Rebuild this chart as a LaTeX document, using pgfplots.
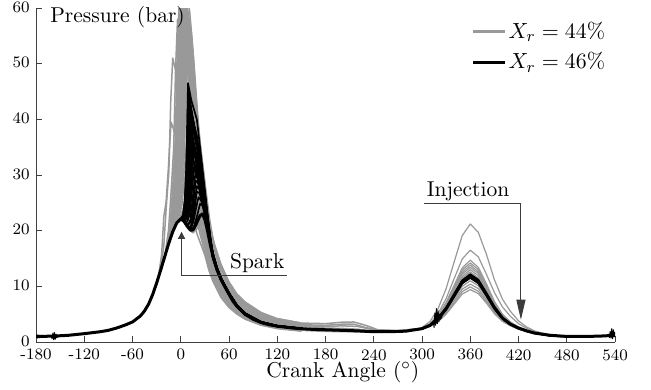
\documentclass[border=0pt]{standalone}
\usepackage{pgfplots}
\pgfplotsset{compat=1.18}
\usetikzlibrary{arrows.meta}
\definecolor{grayline}{RGB}{153,153,153}
\definecolor{annot}{RGB}{60,60,60}
\begin{document}
\begin{tikzpicture}
\begin{axis}[
  width=289.5pt, height=167pt, scale only axis,
  xmin=-180, xmax=540, ymin=0, ymax=60,
  axis x line*=bottom, axis y line*=left,
  xtick={-180,-120,-60,0,60,120,180,240,300,360,420,480,540},
  xticklabels={-180,-120,-60,0,60,120,180,240,300,360,420,480,540},
  ytick={0,10,20,30,40,50,60},
  tick align=inside, major tick length=3pt,
  tick label style={font=\fontsize{8}{9}\selectfont},
  xticklabel style={inner sep=0pt, yshift=-3.4pt},
  yticklabel style={inner sep=0pt, xshift=-3pt, yshift=0.5pt},
  /pgf/number format/assume math mode=true,
  axis line style={black!75, line width=0.5pt},
  every tick/.style={black!75, line width=0.5pt},
  xlabel={Crank Angle ($^\circ$)},
  xlabel style={font=\fontsize{10.75}{12}\selectfont, at={(axis description cs:0.53,0)}, anchor=north, inner sep=0pt, yshift=-9.6pt},
  ylabel={Pressure (bar)},
  ylabel style={font=\fontsize{10.75}{12}\selectfont, rotate=-90, at={(axis description cs:0.024,1.006)}, anchor=north west, inner sep=0pt},
  legend style={at={(axis description cs:0.7515,0.9645)}, anchor=north west, draw=none, fill=none, inner sep=0pt, font=\fontsize{10.75}{12}\selectfont, row sep=3.3pt, nodes={inner sep=1pt}},
  legend image code/.code={\draw[#1] (0pt,0pt) -- (16pt,0pt);},
  legend cell align=left,
  clip=true,
  every axis plot/.append style={line join=round},
]
\addlegendimage{grayline, line width=1.5pt}
\addlegendentry{$X_r = 44\%$}
\addlegendimage{black, line width=1.5pt}
\addlegendentry{$X_r = 46\%$}

% ---------------- X_r = 44% (gray) : combustion region ----------------
\pgfplotsset{gr/.style={grayline, line width=0.75pt, forget plot}}
\addplot[gr] coordinates {(-35,8.5)(-30,10.6)(-25,12.9)(-20,15.3)(-15.2,20.1)(-12,27)(-8.8,34.8)(-6.4,49.3)(-4,58)(-1,55.7)(2,51)(6,42.9)(11,33.6)(16,26.7)(21,22)(30,17)(35,14)(40,11.9)(50,8.8)(60,6.8)(70,5.4)(80,4.5)(100,3.3)(120,2.6)(150,2.1)};
\addplot[gr] coordinates {(-35,8.5)(-30,10.6)(-25,12.9)(-18,16.3)(-13.2,21)(-10,27.8)(-6.8,36.6)(-4.4,51.9)(-2,61)(1,58.6)(4,53.7)(8,45.1)(13,35.4)(18,28.1)(23,23.2)(30,17.5)(35,13.5)(40,11.5)(50,8.4)(60,6.6)(70,5.2)(80,4.3)(100,3.2)(120,2.5)(150,2.05)};
\addplot[gr] coordinates {(-35,8.5)(-30,10.6)(-25,12.9)(-20,15.3)(-16,17.2)(-11.2,21.8)(-8,28.5)(-4.8,37.2)(-2.4,52.7)(0,62)(3,59.5)(6,54.6)(10,45.9)(15,36)(20,28.5)(25,23.6)(30,19.5)(35,14.9)(40,12.6)(50,9.3)(60,7.2)(70,5.8)(80,4.8)(100,3.5)(120,2.8)(150,2.25)};
\addplot[gr] coordinates {(-35,8.5)(-30,10.6)(-25,12.9)(-20,15.3)(-14,18.1)(-9.2,22.6)(-6,29.1)(-2.8,36.6)(-0.4,51.9)(2,61)(5,58.6)(8,53.7)(12,45.1)(17,35.4)(22,28.1)(27,23.2)(30,21)(35,15.7)(40,13.3)(50,9.8)(60,7.6)(70,6.1)(80,5)(100,3.7)(120,2.9)(150,2.4)};
\addplot[gr] coordinates {(-35,8.5)(-30,10.6)(-25,12.9)(-20,15.3)(-13,18.6)(-8.2,22.9)(-5,29.4)(-1.8,36)(0.6,51)(3,60)(6,57.6)(9,52.8)(13,44.4)(18,34.8)(23,27.6)(28,22.8)(35,16.5)(40,14)(50,10.3)(60,8)(70,6.4)(80,5.3)(100,3.9)(120,3.1)(150,2.5)};
\addplot[gr] coordinates {(-35,8.5)(-30,10.6)(-25,12.9)(-20,15.3)(-12,19)(-7.2,23.3)(-4,29.6)(-0.8,37.8)(1.6,53.6)(4,63)(7,60.5)(10,55.4)(14,46.6)(19,36.5)(24,29)(29,23.9)(35,15.5)(40,12.3)(50,9.1)(60,7)(70,5.6)(80,4.7)(100,3.4)(120,2.7)(150,2.2)};
\addplot[gr] coordinates {(-35,8.5)(-30,10.6)(-25,12.9)(-20,15.3)(-15,17.7)(-11,19.4)(-6.2,23.5)(-3,29.7)(0.2,35.4)(2.6,50.2)(5,59)(8,56.6)(11,51.9)(15,43.7)(20,34.2)(25,27.1)(30,22.4)(35,17.3)(40,14.7)(50,10.8)(60,8.4)(70,6.7)(80,5.6)(100,4.1)(120,3.3)(150,2.6)};
\addplot[gr] coordinates {(-35,8.5)(-30,10.6)(-25,12.9)(-20,15.3)(-15,17.7)(-10,19.8)(-5.2,23.8)(-2,29.9)(1.2,34.2)(3.6,48.5)(6,57)(9,54.7)(12,50.2)(16,42.2)(21,33.1)(26,26.2)(31,21.7)(35,18.2)(40,15.4)(50,11.3)(60,8.8)(70,7)(80,5.8)(100,4.3)(120,3.4)(150,2.75)};
\addplot[gr] coordinates {(-35,8.5)(-30,10.6)(-25,12.9)(-20,15.3)(-15,17.7)(-9,20.2)(-4.2,24.1)(-1,30)(2.2,36.6)(4.6,51.9)(7,61)(10,58.6)(13,53.7)(17,45.1)(22,35.4)(27,28.1)(32,23.2)(36,17.5)(40,14)(50,10.3)(60,8)(70,6.4)(80,5.3)(100,3.9)(120,3.1)(150,2.5)};
\addplot[gr] coordinates {(-35,8.5)(-30,10.6)(-25,12.9)(-20,15.3)(-15,17.7)(-8,20.5)(-3.2,24.2)(0,30.1)(3.2,33.6)(5.6,47.6)(8,56)(11,53.8)(14,49.3)(18,41.4)(23,32.5)(28,25.8)(33,21.3)(35,19)(40,16.1)(50,11.8)(60,9.2)(70,7.4)(80,6.1)(100,4.5)(120,3.6)(150,2.9)};
\addplot[gr] coordinates {(-35,8.5)(-30,10.6)(-25,12.9)(-20,15.3)(-15,17.7)(-7,20.8)(-2.2,24.4)(1,30.1)(4.2,33)(6.6,45)(9,53)(12,51.1)(15,47.7)(19,42.4)(24,35.5)(29,29.7)(34,23)(38,19.5)(40,17.5)(50,12.4)(60,9.6)(70,7.7)(80,6.4)(100,4.7)(120,3.7)(150,3.0)};
\addplot[gr] coordinates {(-35,8.5)(-30,10.6)(-25,12.9)(-20,15.3)(-15,17.7)(-10,19.8)(-6,21.1)(-0.9,24.5)(2.5,29.9)(5.9,33)(8.45,41)(11,50)(14,48.3)(17,45)(21,40)(26,33.5)(31,27.5)(36,22)(40,18.5)(50,13.2)(60,10)(70,8)(80,6.6)(100,4.9)(120,3.9)(150,3.1)};
\addplot[gr] coordinates {(-35,8.5)(-30,10.6)(-25,12.9)(-20,15.3)(-15,17.7)(-10,19.8)(-5,21.4)(0.1,24.6)(3.5,29.8)(6.9,33)(9.45,38)(12,45)(15,43)(18,40)(22,35.5)(27,29.5)(32,24)(37,19.5)(42,16.5)(50,13.5)(60,10.4)(70,8.3)(80,6.9)(100,5.1)(120,4)(150,3.25)};
\addplot[gr] coordinates {(-35,8.5)(-30,10.6)(-25,12.9)(-20,15.3)(-15,17.7)(-10,19.8)(-4,21.6)(1.4,24.5)(5,29.6)(8.6,31.5)(11.3,35)(14,40)(17,38.8)(20,36.8)(24,33.5)(29,28)(34,23)(39,18.5)(45,15.5)(50,13.8)(60,10.8)(70,8.6)(80,7.2)(100,5.3)(120,4.2)(150,3.4)};
\addplot[gr] coordinates {(-35,8.5)(-30,10.6)(-25,12.9)(-20,15.3)(-15,17.7)(-10,19.8)(-5,21.4)(-2,21.9)(3.7,24.3)(7.5,29.8)(11.3,30.8)(14.2,32)(17,34)(20,33)(23,31.3)(27,28.5)(32,24.5)(37,20.5)(42,17.5)(50,14)(60,10.6)(70,8.3)(80,6.9)(100,5.1)(120,4)(150,3.25)};
\addplot[gr] coordinates {(-10,19.8)(-5,21.4)(0,22.1)(5,21.5)(10,20.3)(15,19.6)(20,20.3)(25,21.5)(29,22.3)(33,21.2)(37,19)(41,17)(50,13.2)(60,10.2)(70,8.1)(80,6.7)(100,4.9)(120,3.9)(150,3.1)};
\addplot[gr] coordinates {(-35,8.5)(-30,10.6)(-26,12.4)(-21.2,17.1)(-18,24.3)(-14.8,30.6)(-12.4,43.4)(-10,51)(-7,49.2)(-4,45.9)(0,40.8)(5,34.2)(10,28.6)(15,24.5)(30,16)(35,13.2)(40,11.2)(50,8.2)(60,6.4)(70,5.1)(80,4.2)(100,3.1)(120,2.5)(150,2)};
\addplot[gr] coordinates {(-35,8.5)(-28,11.5)(-23.8,15.7)(-21,22.6)(-18.2,25.2)(-15.5,31)(-13.5,36)(-12,39.5)(-9,38.2)(-5,36)(0,32.5)(5,29)(11,25.2)(20,19.5)(30,15.6)(35,12.9)(40,10.9)(50,8)(60,6.2)(70,5)(80,4.1)(100,3)(120,2.4)(150,1.95)};
\addplot[gr] coordinates {(-35,8.5)(-30,10.6)(-25,12.9)(-20,15.3)(-15,17.7)(-11,19.4)(-5.6,23.7)(-2,29.9)(1.6,36)(4.3,51)(7,60)(10,57.6)(13,52.8)(17,44.4)(22,34.8)(27,27.6)(32,22.8)(36,16.5)(40,13.3)(50,9.8)(60,7.6)(70,6.1)(80,5)(100,3.7)(120,2.9)(150,2.4)};
\addplot[gr] coordinates {(-35,8.5)(-30,10.6)(-25,12.9)(-20,15.3)(-15,17.7)(-9,20.2)(-3.3,24.2)(0.5,30.1)(4.3,34.8)(7.15,49.3)(10,58)(13,55.7)(16,51)(20,42.9)(25,33.6)(30,26.7)(35,21)(40,16.5)(50,11.3)(60,8.8)(70,7)(80,5.8)(100,4.3)(120,3.4)(150,2.75)};
\addplot[gr] coordinates {(-35,8.5)(-30,10.6)(-25,12.9)(-20,15.3)(-15,17.7)(-10.8,22)(-8,28.5)(-5.2,33.6)(-3.1,47.6)(-1,56)(2,53.8)(5,49.3)(9,41.4)(14,32.5)(19,25.8)(24,21.3)(30,18)(35,14.9)(40,12.6)(50,9.3)(60,7.2)(70,5.8)(80,4.8)(100,3.5)(120,2.8)(150,2.25)};
\addplot[gr] coordinates {(-35,8.5)(-30,10.6)(-25,12.9)(-20,15.3)(-15,17.7)(-10,19.8)(-4.6,24)(-1,30)(2.6,37.2)(5.3,52.7)(8,62)(11,59.5)(14,54.6)(18,45.9)(23,36)(28,28.5)(33,23.6)(37,17)(40,14)(50,10.3)(60,8)(70,6.4)(80,5.3)(100,3.9)(120,3.1)(150,2.5)};
\addplot[gr] coordinates {(-35,8.5)(-30,10.6)(-25,12.9)(-20,15.3)(-14,18.1)(-9.5,22.5)(-6.5,29)(-3.5,36)(-1.25,51)(1,60)(4,57.6)(7,52.8)(11,44.4)(16,34.8)(21,27.6)(26,22.8)(30,18.4)(35,15.2)(40,12.9)(50,9.5)(60,7.4)(70,5.9)(80,4.9)(100,3.6)(120,2.85)(150,2.3)};
\addplot[gr] coordinates {(-35,8.5)(-30,10.6)(-25,12.9)(-20,15.3)(-15,17.7)(-12,19)(-7.5,23.2)(-4.5,29.5)(-1.5,37.8)(0.75,53.6)(3,63)(6,60.5)(9,55.4)(13,46.6)(18,36.5)(23,29)(28,23.9)(35,17.3)(40,14.7)(50,10.8)(60,8.4)(70,6.7)(80,5.6)(100,4.1)(120,3.3)(150,2.6)};
\addplot[gr] coordinates {(-35,8.5)(-30,10.6)(-25,12.9)(-20,15.3)(-15,17.7)(-10,19.8)(-5.5,23.8)(-2.5,29.8)(0.5,36.6)(2.75,51.9)(5,61)(8,58.6)(11,53.7)(15,45.1)(20,35.4)(25,28.1)(30,23.2)(35,16.2)(40,13.7)(50,10.1)(60,7.8)(70,6.3)(80,5.2)(100,3.8)(120,3)(150,2.45)};
\addplot[gr] coordinates {(-35,8.5)(-30,10.6)(-25,12.9)(-20,15.3)(-16,17.2)(-11.8,21.6)(-9,28.2)(-6.2,35.4)(-4.1,50.2)(-2,59)(1,56.6)(4,51.9)(8,43.7)(13,34.2)(18,27.1)(23,22.4)(30,17.4)(35,14.4)(40,12.2)(50,9)(60,7)(70,5.6)(80,4.6)(100,3.4)(120,2.7)(150,2.2)};
\addplot[gr] coordinates {(-35,8.5)(-30,10.6)(-25,12.9)(-20,15.3)(-15,17.7)(-8,20.5)(-3.5,24.2)(-0.5,30.1)(2.5,33)(4.75,46.8)(7,55)(10,52.8)(13,48.4)(17,40.7)(22,31.9)(27,25.3)(32,20.9)(40,15.7)(50,11.5)(60,9)(70,7.2)(80,5.9)(100,4.4)(120,3.5)(150,2.8)};
\addplot[gr] coordinates {(-35,8.5)(-30,10.6)(-25,12.9)(-20,15.3)(-13,18.6)(-8.5,22.8)(-5.5,29.2)(-2.5,34.2)(-0.25,48.5)(2,57)(5,54.7)(8,50.2)(12,42.2)(17,33.1)(22,26.2)(27,21.7)(35,14.9)(40,12.6)(50,9.3)(60,7.2)(70,5.8)(80,4.8)(100,3.5)(120,2.8)(150,2.25)};

% ---------------- gray : 120 - 300 ----------------
\addplot[gr] coordinates {(120,3.3)(150,2.8)(180,2.5)(200,2.45)(220,2.3)(240,1.95)(270,1.95)(300,2.4)};
\addplot[gr] coordinates {(120,4.2)(150,3.4)(180,3.3)(200,3.55)(215,3.6)(230,3.0)(245,2.2)(270,2.05)(300,2.45)};
\addplot[gr] coordinates {(120,3.8)(150,3.1)(180,3.0)(200,3.2)(215,3.2)(230,2.6)(245,2.1)(270,2.0)(300,2.45)};
\addplot[gr] coordinates {(120,3.5)(150,2.95)(180,2.8)(200,2.9)(220,2.8)(240,2.2)(270,2.0)(300,2.4)};
\addplot[gr] coordinates {(120,2.6)(150,2.1)(180,1.9)(210,1.85)(240,1.75)(270,1.8)(300,2.3)};
\addplot[gr] coordinates {(120,2.9)(150,2.4)(180,2.2)(210,2.15)(240,1.9)(270,1.9)(300,2.35)};

% ---------------- gray : 300 - 480 ----------------
\pgfplotsset{grt/.style={grayline, line width=0.6pt, forget plot}}
\addplot[grt] coordinates {(300,2.6)(310,3.7)(320,6.0)(330,9.6)(340,14.4)(350,19.1)(360,21.2)(370,19.7)(380,15.8)(390,11.2)(400,7.7)(410,5.5)(420,3.8)(430,2.7)(440,2.0)(460,1.15)(480,1.0)};
\addplot[grt] coordinates {(300,2.5)(310,3.3)(320,5.1)(330,7.8)(340,11.4)(350,14.9)(360,16.5)(370,15.3)(380,12.2)(390,8.9)(400,6.3)(410,4.6)(420,3.3)(430,2.45)(440,1.85)(460,1.15)(480,1.0)};
\addplot[grt] coordinates {(300,2.45)(310,3.2)(320,4.7)(330,7.1)(340,10.2)(350,13.3)(360,14.7)(370,13.4)(380,10.5)(390,7.3)(400,5)(410,3.6)(420,2.7)(430,2.1)(440,1.65)(460,1.1)(480,1.0)};
\addplot[grt] coordinates {(300,2.45)(310,3.15)(320,4.6)(330,6.9)(340,9.9)(350,12.9)(360,14.2)(370,13)(380,10.2)(390,7.1)(400,4.85)(410,3.5)(420,2.7)(430,2.1)(440,1.65)(460,1.1)(480,1.0)};
\addplot[grt] coordinates {(300,2.45)(310,3.1)(320,4.5)(330,6.7)(340,9.6)(350,12.5)(360,13.8)(370,12.6)(380,9.9)(390,6.9)(400,4.75)(410,3.45)(420,2.65)(430,2.1)(440,1.6)(460,1.1)(480,1.0)};
\addplot[grt] coordinates {(300,2.4)(310,3.1)(320,4.4)(330,6.6)(340,9.4)(350,12.2)(360,13.4)(370,12.3)(380,9.6)(390,6.7)(400,4.65)(410,3.4)(420,2.6)(430,2.05)(440,1.6)(460,1.1)(480,1.0)};
\addplot[grt] coordinates {(300,2.4)(310,3.05)(320,4.4)(330,6.4)(340,9.1)(350,11.8)(360,13.0)(370,11.9)(380,9.4)(390,6.55)(400,4.55)(410,3.35)(420,2.6)(430,2.05)(440,1.6)(460,1.1)(480,1.0)};
\addplot[grt] coordinates {(300,2.4)(310,3.0)(320,4.3)(330,6.3)(340,8.9)(350,11.5)(360,12.6)(370,11.5)(380,9.1)(390,6.4)(400,4.45)(410,3.3)(420,2.55)(430,2.0)(440,1.6)(460,1.1)(480,1.0)};
\addplot[grt] coordinates {(300,2.4)(310,2.9)(320,4.0)(330,5.6)(340,7.8)(350,10.0)(360,11.0)(370,10.1)(380,8.0)(390,5.7)(400,4.1)(410,3.1)(420,2.45)(430,1.95)(440,1.55)(460,1.1)(480,1.0)};
\addplot[grt] coordinates {(300,2.35)(310,2.85)(320,3.85)(330,5.4)(340,7.4)(350,9.5)(360,10.4)(370,9.6)(380,7.6)(390,5.5)(400,3.9)(410,3.0)(420,2.4)(430,1.95)(440,1.55)(460,1.1)(480,1.0)};
\addplot[grt] coordinates {(300,2.35)(310,2.8)(320,3.75)(330,5.2)(340,7.1)(350,9.05)(360,9.9)(370,9.1)(380,7.3)(390,5.3)(400,3.8)(410,2.95)(420,2.35)(430,1.9)(440,1.55)(460,1.1)(480,1.0)};
\addplot[grt] coordinates {(300,2.35)(310,2.8)(320,3.65)(330,5.0)(340,6.8)(350,8.6)(360,9.4)(370,8.7)(380,7.0)(390,5.1)(400,3.7)(410,2.9)(420,2.3)(430,1.9)(440,1.55)(460,1.1)(480,1.0)};

% ---------------- X_r = 46% (black) : combustion region ----------------
\pgfplotsset{bk/.style={black, line width=0.85pt, forget plot}}
\addplot[bk] coordinates {(-5,21.4)(0,22.1)(3,22.8)(5,25)(7,31)(8,37)(9,46.5)(11,45)(13,43.5)(16,42)(20,40)(24,35)(28,29.8)(31,26)(34,22)(37,18.5)(40,15.8)(45,13.1)(50,11.3)(60,8.6)(70,6.4)(80,5)(100,3.5)(120,2.85)(150,2.4)};
\addplot[bk] coordinates {(-5,21.4)(0,22.1)(3,22.6)(5,24)(7,28)(8.5,35)(10,44)(12,42.5)(15,40)(20,37)(24,33)(28,28.5)(31,25)(34,21.5)(37,18.2)(40,15.6)(45,13.2)(50,11.4)(60,8.8)(70,6.6)(80,5.2)(100,3.6)(120,2.9)(150,2.45)};
\addplot[bk] coordinates {(-5,21.4)(0,22.1)(3,22.5)(6,24)(8,27)(10,33)(12,42)(14,41)(17,38.5)(20,36)(24,32.5)(28,28)(31,24.5)(34,21)(37,18)(40,15.5)(45,13.2)(50,11.4)(60,8.7)(70,6.5)(80,5.1)(100,3.6)(120,2.9)(150,2.4)};
\addplot[bk] coordinates {(-5,21.4)(0,22.1)(3,22.4)(5,23.5)(7,26)(9,32)(11,40)(13,38.5)(16,36)(20,33)(24,30)(28,26.5)(31,23.8)(34,20.8)(37,17.8)(40,15.2)(45,13)(50,11.2)(60,8.5)(70,6.3)(80,4.9)(100,3.45)(120,2.8)(150,2.35)};
\addplot[bk] coordinates {(-5,21.4)(0,22.1)(4,22.3)(7,23.5)(9,26)(11.5,31)(14,38)(16,37.5)(18,36.5)(20,35)(24,31.5)(28,27.5)(31,24.5)(34,21.2)(37,18.2)(40,15.6)(45,13.3)(50,11.5)(60,8.8)(70,6.6)(80,5.1)(100,3.6)(120,2.9)(150,2.45)};
\addplot[bk] coordinates {(-5,21.4)(0,22.1)(4,22.2)(7,23)(9,25)(11,29.5)(13,36)(15,35)(18,33)(20,31.5)(24,28.5)(28,25.5)(31,23)(34,20.5)(37,17.6)(40,15.2)(45,13)(50,11.2)(60,8.6)(70,6.4)(80,5)(100,3.5)(120,2.85)(150,2.4)};
\addplot[bk] coordinates {(-5,21.4)(0,22.1)(5,21.8)(8,22.3)(11,25)(13.5,29.5)(16,34)(18,33.6)(20,32.5)(24,29.5)(28,26.5)(31,24)(34,21)(37,18)(40,15.4)(45,13.1)(50,11.3)(60,8.7)(70,6.5)(80,5)(100,3.5)(120,2.85)(150,2.4)};
\addplot[bk] coordinates {(-5,21.4)(0,22.1)(5,21.7)(8,21.6)(11,23)(14,27.5)(17,32)(20,31)(24,28.5)(28,25.5)(31,23.2)(34,20.5)(37,17.7)(40,15.2)(45,13)(50,11.2)(60,8.6)(70,6.4)(80,5)(100,3.5)(120,2.85)(150,2.4)};
\addplot[bk] coordinates {(-5,21.4)(0,22.1)(5,21.6)(9,21)(12,22)(15,26)(18,30)(21,29.4)(24,27.5)(28,24.8)(31,22.6)(34,20.2)(37,17.5)(40,15)(45,12.9)(50,11.1)(60,8.5)(70,6.3)(80,4.9)(100,3.45)(120,2.8)(150,2.35)};
\addplot[bk] coordinates {(-5,21.4)(0,22.1)(5,21.6)(10,20.6)(13,21)(16,23.5)(20,28)(23,27.5)(26,26)(29,24)(32,21.8)(35,19.5)(38,17)(40,15.6)(45,13.2)(50,11.4)(60,8.7)(70,6.5)(80,5.1)(100,3.5)(120,2.85)(150,2.4)};
\addplot[bk] coordinates {(-5,21.4)(0,22.1)(5,21.6)(10,20.5)(13,20.4)(16,21.8)(19,24)(22,26)(25,25.5)(28,24.3)(31,22.5)(34,20.4)(37,18)(40,15.8)(45,13.4)(50,11.5)(60,8.8)(70,6.6)(80,5.1)(100,3.6)(120,2.9)(150,2.4)};
\addplot[bk] coordinates {(-5,21.4)(0,22.1)(5,21.6)(10,20.4)(13,20.1)(16,20.6)(20,22.5)(24,24.8)(27,24.5)(30,22.8)(33,20.7)(36,18.6)(40,16)(45,13.4)(50,11.5)(60,8.8)(70,6.6)(80,5.1)(100,3.6)(120,2.9)(150,2.4)};
\addplot[bk] coordinates {(-5,21.4)(0,22.1)(3,22.7)(5,24.5)(7,29)(8.5,36)(9.5,45)(11.5,43.5)(14,41)(17,38.5)(20,36)(24,32)(28,27.5)(31,24.5)(34,21.2)(37,18)(40,15.4)(45,13.1)(50,11.3)(60,8.6)(70,6.4)(80,5)(100,3.5)(120,2.85)(150,2.4)};
\addplot[bk] coordinates {(-5,21.4)(0,22.1)(3,22.4)(6,23.6)(8,26)(10.5,31)(13,41)(15,40)(18,37.5)(20,36.5)(24,33)(28,28.8)(31,25.5)(34,22)(37,18.6)(40,15.8)(45,13.3)(50,11.4)(60,8.7)(70,6.5)(80,5.1)(100,3.6)(120,2.9)(150,2.4)};
\addplot[bk] coordinates {(-5,21.4)(0,22.1)(4,22)(7,22.5)(10,25)(12.5,29)(15,35)(17,34.5)(20,33)(24,30.2)(28,27)(31,24.3)(34,21.3)(37,18.2)(40,15.6)(45,13.2)(50,11.4)(60,8.7)(70,6.5)(80,5.1)(100,3.5)(120,2.85)(150,2.4)};
\addplot[bk] coordinates {(-5,21.4)(0,22.1)(3,22.5)(5,23.8)(7,27)(9,33)(10.5,39)(12.5,38)(15,36.3)(20,33.5)(24,30.5)(28,27)(31,24)(34,21)(37,18)(40,15.3)(45,13)(50,11.2)(60,8.6)(70,6.4)(80,5)(100,3.5)(120,2.85)(150,2.4)};
\addplot[bk] coordinates {(-5,21.4)(0,22.1)(3,22.5)(5,23.6)(7,26.5)(9,33)(11,43)(13,41.5)(16,39)(20,36)(24,32.5)(28,28)(31,24.7)(34,21.3)(37,18.1)(40,15.5)(45,13.1)(50,11.3)(60,8.6)(70,6.4)(80,5)(100,3.5)(120,2.85)(150,2.4)};
\addplot[bk] coordinates {(-5,21.4)(0,22.1)(3,22.3)(6,23.2)(8,25.5)(10,30)(12,37)(14,36)(17,34)(20,32.2)(24,29.2)(28,26)(31,23.4)(34,20.7)(37,17.8)(40,15.3)(45,13)(50,11.2)(60,8.6)(70,6.4)(80,5)(100,3.5)(120,2.85)(150,2.4)};
\addplot[bk] coordinates {(-5,21.4)(0,22.1)(4,21.9)(7,22.4)(9,24)(11.5,28)(14,33)(16,32.5)(19,31)(22,29.3)(25,27.4)(28,25.2)(31,23)(34,20.4)(37,17.7)(40,15.2)(45,13)(50,11.2)(60,8.6)(70,6.4)(80,5)(100,3.5)(120,2.85)(150,2.4)};
\addplot[bk] coordinates {(-5,21.4)(0,22.1)(5,21.6)(8,21.6)(10.5,22.8)(13,26)(16,31)(18,30.6)(21,29.3)(24,27.8)(28,25.2)(31,23)(34,20.5)(37,17.8)(40,15.3)(45,13)(50,11.2)(60,8.6)(70,6.4)(80,5)(100,3.5)(120,2.85)(150,2.4)};
\addplot[bk] coordinates {(-5,21.4)(0,22.1)(5,21.6)(9,21)(12,21.5)(15,24)(18.5,29)(21,28.7)(24,27.3)(28,25)(31,22.9)(34,20.5)(37,17.8)(40,15.4)(45,13.1)(50,11.3)(60,8.7)(70,6.5)(80,5)(100,3.5)(120,2.85)(150,2.4)};
\addplot[bk] coordinates {(-5,21.4)(0,22.1)(5,21.6)(10,20.5)(13,20.8)(16,22.8)(20,27)(23,26.8)(26,25.6)(29,23.8)(32,21.6)(35,19.3)(38,16.9)(40,15.5)(45,13.2)(50,11.4)(60,8.7)(70,6.5)(80,5.1)(100,3.5)(120,2.85)(150,2.4)};
\addplot[bk] coordinates {(-5,21.4)(0,22.1)(3,22.6)(5,24.2)(7,28)(8.5,33.5)(10,41.5)(12,40.5)(15,38.5)(20,35)(24,31.8)(28,27.6)(31,24.4)(34,21.2)(37,18)(40,15.4)(45,13.1)(50,11.3)(60,8.6)(70,6.4)(80,5)(100,3.5)(120,2.85)(150,2.4)};
\addplot[bk] coordinates {(-5,21.4)(0,22.1)(4,22.2)(7,23.3)(9.5,26.5)(12,32)(14,39)(16,38.2)(19,36.3)(22,34)(25,31)(28,27.8)(31,24.8)(34,21.5)(37,18.3)(40,15.6)(45,13.2)(50,11.4)(60,8.7)(70,6.5)(80,5.1)(100,3.6)(120,2.9)(150,2.45)};
\addplot[bk] coordinates {(-5,21.4)(0,22.1)(3,22.3)(5,23)(7,25)(9,29)(11,35)(13,34.2)(16,32.5)(20,30.3)(24,28)(28,25.3)(31,23)(34,20.4)(37,17.6)(40,15.1)(45,12.9)(50,11.1)(60,8.5)(70,6.3)(80,4.9)(100,3.45)(120,2.8)(150,2.35)};
\addplot[bk] coordinates {(-5,21.4)(0,22.1)(3,22.9)(5,25.5)(6.5,30)(8,37.5)(9,44.5)(11,43)(13,41.2)(16,39)(20,37)(24,33.5)(28,28.8)(31,25.3)(34,21.6)(37,18.3)(40,15.6)(45,13.2)(50,11.3)(60,8.6)(70,6.4)(80,5)(100,3.5)(120,2.85)(150,2.4)};

% black : 300 - 480
\addplot[bk] coordinates {(300,2.4)(310,3.0)(320,4.2)(330,6.1)(340,8.6)(350,11.1)(360,12.2)(370,11.2)(380,8.8)(390,6.2)(400,4.35)(410,3.25)(420,2.55)(430,2.0)(440,1.6)(460,1.1)(480,1.0)};
\addplot[bk] coordinates {(300,2.4)(310,2.95)(320,4.05)(330,5.8)(340,8.15)(350,10.5)(360,11.5)(370,10.55)(380,8.35)(390,5.95)(400,4.2)(410,3.15)(420,2.5)(430,1.95)(440,1.6)(460,1.1)(480,1.0)};

% black main (thick) cycle
\addplot[black, line width=1.5pt, forget plot] coordinates {
(-180,1.0)(-160,1.05)(-140,1.2)(-120,1.5)(-100,1.85)(-90,2.1)(-80,2.5)(-70,3.0)(-60,3.6)(-50,4.7)(-45,5.6)(-40,6.8)(-35,8.5)(-30,10.6)(-25,12.9)(-20,15.3)(-15,17.7)(-10,19.8)(-5,21.4)(0,22.1)
(4,21.7)(8,20.8)(12,20.1)(15,20.1)(18,20.8)(21,21.8)(24,22.7)(27,23)(30,22)(33,20.2)(36,18)(40,15.4)(45,13)(50,11.3)(55,9.9)(60,8.6)(65,7.3)(70,6.4)(80,5.0)(90,4.1)(100,3.5)(110,3.1)(120,2.85)(140,2.5)(160,2.3)(180,2.2)(200,2.1)(220,2.0)(240,1.85)(260,1.85)(280,1.95)(300,2.4)(310,3.0)(320,4.2)(330,6.0)(340,8.4)(350,10.8)(360,11.9)(370,10.9)(380,8.6)(390,6.2)(400,4.3)(410,3.2)(420,2.5)(430,2.0)(440,1.6)(460,1.2)(480,1.0)(500,1.0)(520,1.05)(540,1.2)};

% cycle-to-cycle scatter near valve events
\addplot[black, line width=0.5pt, forget plot] coordinates {(-180,0.8)(-179,1.3)(-178,0.7)(-177,1.25)(-176,0.75)(-175,1.2)(-174,0.8)(-172,1.2)(-170,0.85)(-168,1.15)(-166,0.9)(-164,1.1)(-162,1.0)};
\addplot[black, line width=0.5pt, forget plot] coordinates {(-161,1.0)(-160,0.6)(-159,1.6)(-158,0.4)(-157,1.7)(-156,0.5)(-155,1.4)(-154,0.8)(-152,1.05)};
\addplot[black, line width=0.5pt, forget plot] coordinates {(313,3.2)(314,3.8)(315,2.6)(316,5.2)(317,3.0)(318,6.0)(319,3.3)(320,5.6)(321,3.6)(322,5.0)(323,4.1)(325,4.6)};
\addplot[black, line width=0.5pt, forget plot] coordinates {(530,1.1)(532,1.4)(533,0.8)(534,1.9)(535,0.7)(536,2.4)(537,0.6)(538,2.2)(539,0.9)(540,1.8)};

% annotations
\draw[annot, line width=0.5pt, -{Triangle[length=3.5pt,width=3.5pt]}] (axis cs:132,12) -- (axis cs:1,12) -- (axis cs:1,19.8);
\node[anchor=south east, inner sep=1pt, font=\fontsize{10.75}{12}\selectfont] at (axis cs:132,12) {Spark};
\draw[annot, line width=0.5pt, -{Triangle[length=10pt,width=4.5pt]}] (axis cs:303,24.9) -- (axis cs:423,24.9) -- (axis cs:423,4.0);
\node[anchor=south west, inner sep=1pt, font=\fontsize{10.75}{12}\selectfont] at (axis cs:303,24.9) {Injection};
\end{axis}
\path ([shift={(-18pt,-23.5pt)}]current axis.south west) rectangle ([shift={(18pt,4pt)}]current axis.north east);
\end{tikzpicture}
\end{document}
